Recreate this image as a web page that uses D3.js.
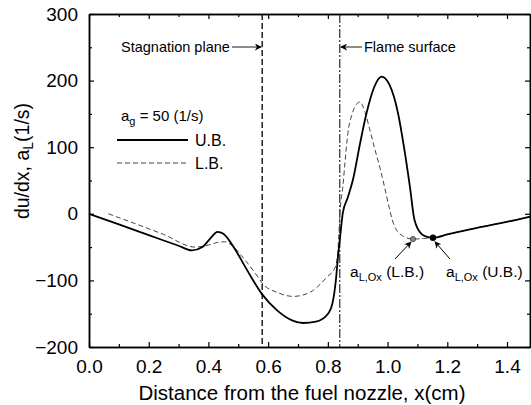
<!DOCTYPE html>
<html><head><meta charset="utf-8">
<script src="https://cdn.jsdelivr.net/npm/d3@7"></script>
<style>
html,body{margin:0;padding:0;background:#fff;}
svg{display:block;font-family:"Liberation Sans",Arial,sans-serif;}
</style></head>
<body><svg id="c" width="531" height="405"></svg>
<script>
// ---- data ----
const ubX = [0, 0.1, 0.2, 0.3, 0.345, 0.38, 0.41, 0.43, 0.45, 0.49, 0.53, 0.58, 0.63, 0.68, 0.717, 0.76, 0.797, 0.815, 0.827, 0.834, 0.84, 0.85, 0.867, 0.884, 0.908, 0.93, 0.955, 0.98, 1.005, 1.035, 1.055, 1.075, 1.09, 1.115, 1.135, 1.152, 1.2, 1.3, 1.4, 1.48];
const ubY = [0, -16, -32, -48, -55, -50, -35, -27, -30, -54, -85, -121, -145, -160, -164, -162, -152, -135, -99, -64, -39, 1, 25, 51, 106, 152, 190, 206, 195, 151, 100, 40, -9, -31, -35, -36, -31, -21, -12, -4];
const lbX = [0.065, 0.15, 0.25, 0.355, 0.4, 0.43, 0.455, 0.48, 0.52, 0.566, 0.58, 0.63, 0.685, 0.74, 0.797, 0.824, 0.833, 0.838, 0.842, 0.85, 0.858, 0.867, 0.88, 0.895, 0.907, 0.925, 0.94, 0.958, 0.975, 0.99, 1.005, 1.02, 1.05, 1.085, 1.12, 1.152, 1.2, 1.3, 1.4, 1.48];
const lbY = [0, -14, -31, -50, -47, -43, -42, -48, -68, -95, -104, -118, -124, -118, -95, -81, -60, -20, 10, 40, 80, 121, 148, 164, 168, 152, 127, 96, 68, 40, 10, -15, -33, -38, -37, -36, -31, -21, -12, -4];
const xTicks = [0.0, 0.2, 0.4, 0.6, 0.8, 1.0, 1.2, 1.4];
const yTicks = [-200, -100, 0, 100, 200, 300];
const stagnationX = 0.58;
const flameX = 0.84;
const ubPoint = [1.152, -36];
const lbPoint = [1.085, -38];

const svg = d3.select("#c");
const x = d3.scaleLinear().domain([0, 1.477]).range([89, 530]);
const y = d3.scaleLinear().domain([-200, 300]).range([347, 14]);
const fmt = d3.format(".1f");

// axes
svg.append("g").attr("transform", `translate(0,${y(-200)})`)
  .call(d3.axisBottom(x).tickValues(xTicks).tickFormat(fmt).tickSizeInner(-5).tickSizeOuter(0).tickPadding(13));
svg.append("g").attr("transform", `translate(0,${y(-200)})`)
  .call(d3.axisBottom(x).tickValues(d3.range(0.1, 1.48, 0.2)).tickFormat("").tickSizeInner(-3).tickSizeOuter(0));
svg.append("g").attr("transform", `translate(0,${y(300)})`)
  .call(d3.axisTop(x).tickValues(xTicks).tickFormat("").tickSizeInner(-5).tickSizeOuter(0));
svg.append("g").attr("transform", `translate(0,${y(300)})`)
  .call(d3.axisTop(x).tickValues(d3.range(0.1, 1.48, 0.2)).tickFormat("").tickSizeInner(-3).tickSizeOuter(0));
svg.append("g").attr("transform", `translate(${x(0)},0)`)
  .call(d3.axisLeft(y).tickValues(yTicks).tickSizeInner(-5).tickSizeOuter(0).tickPadding(11));
svg.append("g").attr("transform", `translate(${x(0)},0)`)
  .call(d3.axisLeft(y).tickValues(d3.range(-150, 300, 100)).tickFormat("").tickSizeInner(-3).tickSizeOuter(0));
svg.append("g").attr("transform", `translate(${x(1.477)},0)`)
  .call(d3.axisRight(y).tickValues(yTicks).tickFormat("").tickSizeInner(-5).tickSizeOuter(0));
svg.append("g").attr("transform", `translate(${x(1.477)},0)`)
  .call(d3.axisRight(y).tickValues(d3.range(-150, 300, 100)).tickFormat("").tickSizeInner(-3).tickSizeOuter(0));
svg.selectAll(".domain").attr("stroke", "#000").attr("stroke-width", 1.5);
svg.selectAll(".tick line").attr("stroke", "#000").attr("stroke-width", 1.2);
svg.selectAll(".tick text").attr("font-size", 19).attr("font-family", '"Liberation Sans",Arial,sans-serif').attr("fill", "#000");

// reference lines
svg.append("line").attr("x1", x(stagnationX)).attr("x2", x(stagnationX)).attr("y1", y(300)).attr("y2", y(-200))
  .attr("stroke", "#000").attr("stroke-width", 1.3).attr("stroke-dasharray", "6,3");
svg.append("line").attr("x1", x(flameX)).attr("x2", x(flameX)).attr("y1", y(300)).attr("y2", y(-200))
  .attr("stroke", "#000").attr("stroke-width", 1).attr("stroke-dasharray", "9,2,2,2");

// curves
const line = d3.line().x(d => x(d[0])).y(d => y(d[1])).curve(d3.curveMonotoneX);
svg.append("path").datum(lbX.map((v, i) => [v, lbY[i]])).attr("d", line)
  .attr("fill", "none").attr("stroke", "#444").attr("stroke-width", 1).attr("stroke-dasharray", "5,3");
svg.append("path").datum(ubX.map((v, i) => [v, ubY[i]])).attr("d", line)
  .attr("fill", "none").attr("stroke", "#000").attr("stroke-width", 1.8);

// points
svg.append("circle").attr("cx", x(lbPoint[0])).attr("cy", y(lbPoint[1])).attr("r", 2.6)
  .attr("fill", "#888").attr("stroke", "#333").attr("stroke-width", 0.8);
svg.append("circle").attr("cx", x(ubPoint[0])).attr("cy", y(ubPoint[1])).attr("r", 3.2).attr("fill", "#000");

// arrow marker
const defs = svg.append("defs");
defs.append("marker").attr("id", "ah").attr("viewBox", "0 0 10 10").attr("refX", 9).attr("refY", 5)
  .attr("markerWidth", 7).attr("markerHeight", 7).attr("markerUnits", "userSpaceOnUse").attr("orient", "auto")
  .append("path").attr("d", "M0,0 L10,5 L0,10 L3,5 Z").attr("fill", "#000");

function arrow(x1, y1, x2, y2, w) {
  svg.append("line").attr("x1", x1).attr("y1", y1).attr("x2", x2).attr("y2", y2)
    .attr("stroke", "#000").attr("stroke-width", w || 1).attr("marker-end", "url(#ah)");
}

// annotations
const T = (xx, yy, s, size) => svg.append("text").attr("x", xx).attr("y", yy).attr("font-size", size || 13).attr("fill", "#000").text(s);
T(121, 52, "Stagnation plane", 14.5);
arrow(232, 47, x(stagnationX) - 1, 47, 0.9);
T(364, 52, "Flame surface", 14.5);
arrow(362, 47, x(flameX) + 1, 47, 0.9);

// a_g label
const ag = svg.append("text").attr("x", 121).attr("y", 121).attr("font-size", 15).attr("fill", "#000");
ag.append("tspan").text("a");
ag.append("tspan").attr("font-size", 11).attr("dy", 4).text("g");
ag.append("tspan").attr("dy", -4).text(" = 50 (1/s)");

// legend
svg.append("line").attr("x1", 117).attr("x2", 188).attr("y1", 140).attr("y2", 140).attr("stroke", "#000").attr("stroke-width", 1.8);
T(195, 145.5, "U.B.", 16);
svg.append("line").attr("x1", 117).attr("x2", 188).attr("y1", 163).attr("y2", 163).attr("stroke", "#444").attr("stroke-width", 1).attr("stroke-dasharray", "5,3");
T(195, 168.5, "L.B.", 16);

// point labels
function aLabel(xx, yy, tag) {
  const t = svg.append("text").attr("x", xx).attr("y", yy).attr("font-size", 15.5).attr("fill", "#000");
  t.append("tspan").text("a");
  t.append("tspan").attr("font-size", 11).attr("dy", 4).text("L,Ox");
  t.append("tspan").attr("dy", -4).text(" (" + tag + ")");
}
aLabel(350, 277, "L.B.");
aLabel(446, 277, "U.B.");
arrow(395, 259, x(lbPoint[0]) - 2, y(lbPoint[1]) + 3, 1);
arrow(450, 259, x(ubPoint[0]) + 2, y(ubPoint[1]) + 4, 1);

// axis titles
svg.append("text").attr("x", 302).attr("y", 400).attr("text-anchor", "middle").attr("font-size", 20.5).attr("fill", "#000")
  .text("Distance from the fuel nozzle, x(cm)");
const yl = svg.append("text").attr("transform", "translate(29,161) rotate(-90)").attr("text-anchor", "middle")
  .attr("font-size", 19.5).attr("fill", "#000");
yl.append("tspan").text("du/dx, a");
yl.append("tspan").attr("font-size", 14).attr("dy", 4).text("L");
yl.append("tspan").attr("dy", -4).text("(1/s)");
</script></body></html>
